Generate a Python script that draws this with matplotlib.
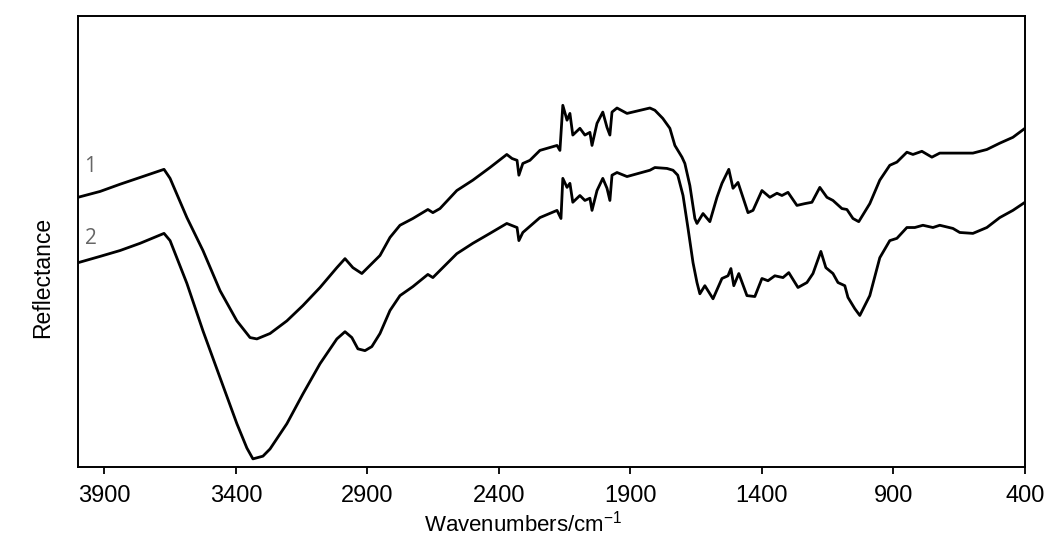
import matplotlib
matplotlib.use("Agg")
import matplotlib.pyplot as plt

plt.rcParams['font.family'] = ['Liberation Sans', 'DejaVu Sans']
plt.rcParams['mathtext.default'] = 'regular'

# Spectrum 1
wn1 = [4000, 3916, 3840, 3764, 3673, 3650, 3586, 3525, 3460, 3396, 3346, 3320, 3270, 3206,
       3145, 3080, 3016, 2985, 2955, 2921, 2890, 2852, 2814, 2776, 2727, 2670, 2651, 2624,
       2560, 2499, 2434, 2370, 2350, 2331, 2324, 2309, 2282, 2244, 2179, 2168, 2157, 2141,
       2130, 2119, 2092, 2073, 2054, 2046, 2027, 2005, 1989, 1978, 1970, 1951, 1913, 1826,
       1807, 1777, 1750, 1731, 1704, 1693, 1674, 1655, 1647, 1624, 1598, 1571, 1552, 1526,
       1510, 1491, 1453, 1434, 1400, 1370, 1343, 1324, 1301, 1267, 1237, 1210, 1180, 1153,
       1130, 1096, 1077, 1054, 1032, 990, 952, 914, 887, 849, 826, 792, 754, 724, 659, 598,
       545, 496, 446, 400]
refl1 = [59.8, 61.1, 62.7, 64.2, 66.0, 64.0, 55.3, 48.0, 39.1, 32.4, 28.7, 28.4, 29.6, 32.4,
         35.8, 39.8, 44.2, 46.2, 44.2, 42.9, 44.7, 46.9, 50.9, 53.6, 55.1, 57.1, 56.4, 57.3,
         61.3, 63.6, 66.4, 69.3, 68.4, 68.0, 64.7, 67.3, 68.0, 70.2, 71.3, 70.2, 80.2, 76.9,
         78.4, 73.6, 75.1, 73.6, 74.2, 71.3, 76.2, 78.7, 75.3, 73.6, 78.7, 79.6, 78.4, 79.6,
         79.1, 77.3, 75.1, 71.3, 68.7, 67.3, 62.4, 55.1, 54.0, 56.2, 54.4, 59.8, 62.9, 66.0,
         61.8, 63.1, 56.4, 56.9, 61.3, 59.8, 60.7, 60.2, 60.9, 58.0, 58.4, 58.7, 62.0, 59.8,
         59.1, 57.3, 57.1, 55.1, 54.4, 58.4, 63.6, 66.9, 67.6, 69.8, 69.3, 70.0, 68.7, 69.6,
         69.6, 69.6, 70.4, 71.8, 73.1, 75.1]

# Spectrum 2
wn2 = [4000, 3916, 3840, 3764, 3673, 3650, 3586, 3525, 3460, 3396, 3358, 3335, 3297, 3270,
       3206, 3145, 3080, 3016, 2985, 2959, 2936, 2909, 2883, 2852, 2814, 2776, 2727, 2670,
       2651, 2560, 2499, 2434, 2370, 2331, 2324, 2309, 2244, 2179, 2164, 2157, 2141, 2130,
       2119, 2092, 2073, 2054, 2046, 2027, 2005, 1989, 1978, 1970, 1951, 1913, 1826, 1807,
       1761, 1738, 1720, 1700, 1681, 1662, 1647, 1636, 1617, 1586, 1552, 1529, 1518, 1507,
       1488, 1457, 1427, 1400, 1377, 1351, 1320, 1298, 1263, 1229, 1206, 1176, 1157, 1130,
       1111, 1085, 1073, 1047, 1028, 990, 952, 914, 887, 849, 819, 788, 750, 724, 674, 648,
       598, 545, 496, 446, 400]
refl2 = [45.3, 46.7, 48.0, 49.6, 51.8, 50.2, 40.7, 30.2, 19.8, 9.6, 4.2, 1.8, 2.4, 4.0,
         9.6, 16.2, 22.9, 28.4, 30.0, 28.7, 26.2, 25.8, 26.7, 29.6, 34.7, 38.0, 40.0, 42.7,
         42.0, 47.3, 49.6, 51.8, 54.0, 53.1, 50.2, 52.0, 55.3, 56.9, 55.1, 64.0, 62.0, 62.9,
         58.7, 60.2, 59.1, 59.6, 56.9, 61.3, 64.0, 61.8, 59.1, 64.7, 65.3, 64.4, 65.8, 66.4,
         66.2, 65.8, 64.7, 60.2, 52.9, 45.3, 40.9, 38.4, 40.2, 37.3, 41.8, 42.4, 44.0, 40.2,
         42.9, 38.0, 37.8, 41.8, 41.3, 42.4, 42.0, 43.1, 39.8, 40.9, 42.9, 47.8, 44.2, 42.9,
         40.9, 40.2, 37.6, 35.1, 33.6, 38.0, 46.4, 50.2, 50.7, 53.1, 53.1, 53.6, 53.1, 53.6,
         52.9, 52.0, 51.8, 53.1, 55.3, 56.9, 58.7]

labels = ['1', '2']
label_pos = [(3954, 66.6), (3951, 50.6)]
xticks = [3900, 3400, 2900, 2400, 1900, 1400, 900, 400]

fig = plt.figure(figsize=(10.58, 5.5), dpi=100)
ax = fig.add_axes([78/1058, 1-467/550, (1025-78)/1058, (467-16)/550])

ax.plot(wn1, refl1, color='black', lw=2.0, solid_joinstyle='round')
ax.plot(wn2, refl2, color='black', lw=2.0, solid_joinstyle='round')

for lab, (x, y) in zip(labels, label_pos):
    ax.text(x, y, lab, color='#666666', fontsize=15, ha='center', va='center',
            family=['Open Sans', 'DejaVu Sans'])

ax.set_xlim(4000, 400)
ax.set_ylim(0, 100)
ax.set_xticks(xticks)
ax.set_xticklabels([str(t) for t in xticks])
ax.set_yticks([])
ax.tick_params(axis='x', direction='out', length=5, width=1.3, labelsize=17, pad=8)
for s in ax.spines.values():
    s.set_linewidth(1.4)

fig.text(523/1058, 1-524/550, 'Wavenumbers/cm$^{-1}$', ha='center', va='center', fontsize=16)
fig.text(43/1058, 1-277/550, 'Reflectance', rotation=90, ha='center', va='center', fontsize=16.5)

fig.savefig('out.png', dpi=100)
